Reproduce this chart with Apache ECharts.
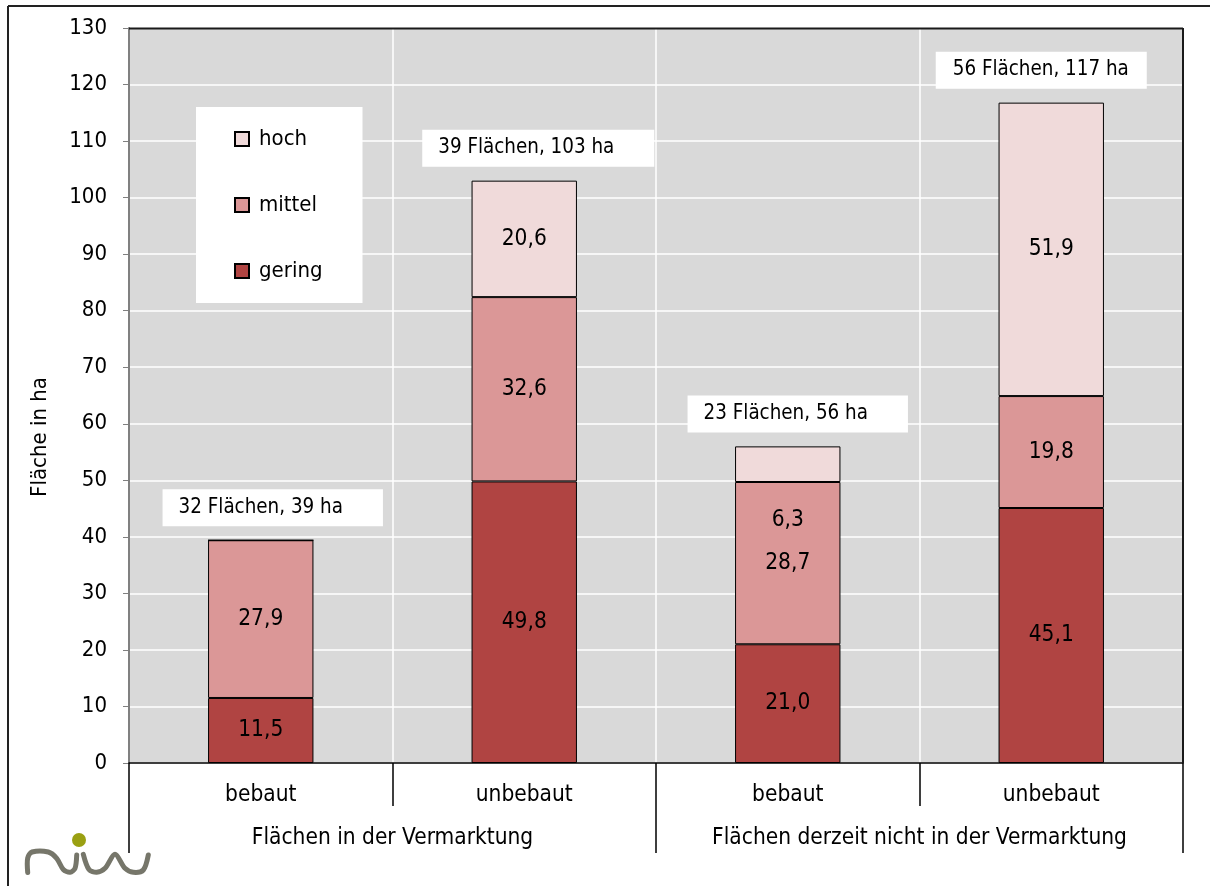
<!DOCTYPE html>
<html>
<head>
<meta charset="utf-8">
<script src="https://cdn.jsdelivr.net/npm/echarts@6/dist/echarts.min.js"></script>
<style>
  html, body { margin: 0; padding: 0; background: #fff; }
  #chart { width: 1210px; height: 886px; }
</style>
</head>
<body>
<div id="chart"></div>
<script>
// ---- data ----
const categories = ['bebaut', 'unbebaut', 'bebaut', 'unbebaut'];
const groups = ['Flächen in der Vermarktung', 'Flächen derzeit nicht in der Vermarktung'];
const gering = [11.5, 49.8, 21.0, 45.1];
const mittel = [27.9, 32.6, 28.7, 19.8];
const hoch = [0, 20.6, 6.3, 51.9];
const flaechenAnzahl = [32, 39, 23, 56];
const yMin = 0, yMax = 130, yStep = 10;
const yAxisTitle = 'Fläche in ha';

// ---- derived ----
const totals = categories.map((c, i) => gering[i] + mittel[i] + hoch[i]);
const FONT = '"DejaVu Sans Condensed", "DejaVu Sans", sans-serif';
const fmt = v => (v ? v.toFixed(1).replace('.', ',') : '');

const boxOffsets = [[12, 0], [14, 0], [10, 0], [-10, 0]];
const boxPaddings = [[9, 40, 9, 16], [9, 40, 9, 16], [9, 40, 9, 16], [9, 18, 9, 17]];
const hochLabelOffsets = [[0, 0], [0, 0], [0, 56], [0, 0]];

const chart = echarts.init(document.getElementById('chart'), null, { renderer: 'canvas' });

const barBase = {
  type: 'bar',
  stack: 'total',
  barWidth: '40%',
  xAxisIndex: 0,
  label: {
    show: true,
    position: 'inside',
    color: '#000',
    fontFamily: FONT,
    fontSize: 22.5,
    formatter: p => fmt(p.value)
  }
};

const option = {
  animation: false,
  backgroundColor: '#fff',
  textStyle: { fontFamily: FONT },
  grid: {
    left: 129, right: 27, top: 28, bottom: 123,
    show: true,
    backgroundColor: '#d9d9d9',
    borderColor: '#1a1a1a',
    borderWidth: 0
  },
  legend: {
    orient: 'vertical',
    left: 196,
    top: 107,
    backgroundColor: '#fff',
    padding: [21, 40, 21, 38],
    itemGap: 44,
    itemWidth: 14,
    itemHeight: 14,
    icon: 'rect',
    data: ['hoch', 'mittel', 'gering'],
    textStyle: { fontFamily: FONT, fontSize: 22, color: '#000', lineHeight: 22, padding: [0, 0, 0, 5] }
  },
  xAxis: [
    {
      type: 'category',
      data: categories,
      position: 'bottom',
      axisLine: { show: true, lineStyle: { color: '#000', width: 1.5 } },
      axisTick: { show: true, length: 43, lineStyle: { color: '#000', width: 1.5 } },
      axisLabel: { interval: 0, margin: 21, color: '#000', fontFamily: FONT, fontSize: 22.5 },
      splitLine: { show: true, lineStyle: { color: '#fff', width: 1.5 } }
    },
    {
      type: 'category',
      data: groups,
      position: 'bottom',
      offset: 43,
      axisLine: { show: false },
      axisTick: { show: true, length: 47, lineStyle: { color: '#000', width: 1.5 } },
      axisLabel: { interval: 0, margin: 21, color: '#000', fontFamily: FONT, fontSize: 22.5 },
      splitLine: { show: false }
    }
  ],
  yAxis: {
    type: 'value',
    min: yMin, max: yMax, interval: yStep,
    axisLine: { show: true, lineStyle: { color: '#808080', width: 2 } },
    axisTick: { show: true, length: 6, lineStyle: { color: '#808080', width: 1 } },
    axisLabel: { margin: 22, color: '#000', fontFamily: FONT, fontSize: 22 },
    splitLine: { show: true, lineStyle: { color: '#fff', width: 1.5 } }
  },
  series: [
    Object.assign({}, barBase, {
      name: 'gering',
      data: gering,
      itemStyle: { color: '#b04442', borderColor: '#000', borderWidth: 1 }
    }),
    Object.assign({}, barBase, {
      name: 'mittel',
      data: mittel,
      itemStyle: { color: '#db9797', borderColor: '#000', borderWidth: 1 }
    }),
    Object.assign({}, barBase, {
      name: 'hoch',
      data: hoch.map((v, i) => ({ value: v, label: { offset: hochLabelOffsets[i] } })),
      itemStyle: { color: '#f0dada', borderColor: '#000', borderWidth: 1 }
    }),
    {
      type: 'scatter',
      name: 'summe',
      xAxisIndex: 0,
      symbolSize: 0,
      silent: true,
      z: 5,
      itemStyle: { opacity: 1 },
      data: totals.map((t, i) => ({ value: t, label: { offset: boxOffsets[i], padding: boxPaddings[i] } })),
      label: {
        show: true,
        position: 'top',
        distance: 14,
        backgroundColor: '#ffffff',
        opacity: 1,
        padding: [9, 40, 9, 16],
        color: '#000',
        fontFamily: FONT,
        fontSize: 20.4,
        lineHeight: 19,
        formatter: p => flaechenAnzahl[p.dataIndex] + ' Flächen, ' + Math.round(totals[p.dataIndex]) + ' ha'
      }
    }
  ],
  graphic: [
    { type: 'line', shape: { x1: 8, y1: 6, x2: 1210, y2: 6 }, style: { stroke: '#222', lineWidth: 2 }, silent: true },
    { type: 'line', shape: { x1: 8, y1: 6, x2: 8, y2: 886 }, style: { stroke: '#222', lineWidth: 2 }, silent: true },
    { type: 'line', shape: { x1: 129, y1: 28.5, x2: 1183, y2: 28.5 }, style: { stroke: '#1a1a1a', lineWidth: 2 }, silent: true, z: 10 },
    { type: 'line', shape: { x1: 1183, y1: 28, x2: 1183, y2: 763 }, style: { stroke: '#1a1a1a', lineWidth: 2 }, silent: true, z: 10 },
    {
      type: 'text', x: 40, y: 437, rotation: Math.PI / 2,
      style: { text: yAxisTitle, fill: '#000', font: '22px ' + FONT, align: 'center', verticalAlign: 'middle' },
      silent: true
    },
    { type: 'circle', shape: { cx: 79, cy: 840, r: 7 }, style: { fill: '#9aa012' }, silent: true },
    {
      type: 'polyline', silent: true,
      shape: {
        points: [[27.7, 872.5], [27.7, 858], [32, 852], [48.3, 852], [56.7, 858.3], [63.3, 869.5], [70, 872.3], [75, 868.3], [76.7, 855]],
        smooth: 0.3
      },
      style: { stroke: '#76766a', lineWidth: 5, fill: null, lineCap: 'round', lineJoin: 'round' }
    },
    {
      type: 'polyline', silent: true,
      shape: {
        points: [[83.3, 854.3], [89, 869.5], [96.7, 872.3], [105, 868.3], [115, 854.3], [125, 868.3], [133.3, 872.3], [143.3, 870], [148.3, 855]],
        smooth: 0.3
      },
      style: { stroke: '#76766a', lineWidth: 5, fill: null, lineCap: 'round', lineJoin: 'round' }
    }
  ]
};

chart.setOption(option);
</script>
</body>
</html>
